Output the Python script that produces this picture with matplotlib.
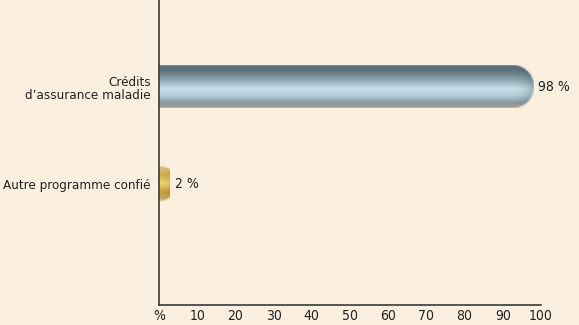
import numpy as np
import matplotlib.pyplot as plt
from matplotlib import font_manager

categories = ["Autre programme confié", "Crédits\nd\u2019assurance maladie"]
values = [2, 98]
value_labels = ["2 %", "98 %"]
tick_values = [0, 10, 20, 30, 40, 50, 60, 70, 80, 90, 100]
tick_labels = ["%", "10", "20", "30", "40", "50", "60", "70", "80", "90", "100"]

BG = "#fbefdf"

# narrow face if one is around, else condensed DejaVu
names = {f.name for f in font_manager.fontManager.ttflist}
if "Liberation Sans Narrow" in names:
    plt.rcParams["font.family"] = ["Liberation Sans Narrow", "DejaVu Sans"]
else:
    plt.rcParams["font.family"] = ["DejaVu Sans"]
    plt.rcParams["font.stretch"] = "condensed"


def tube_image(length_px, height_px, stops):
    """RGBA image of a shaded tube with a rounded right end."""
    nx = max(int(length_px * 2), 4)
    ny = max(int(height_px * 2), 4)
    pos = [s[0] for s in stops]
    cols = np.array([plt.matplotlib.colors.to_rgb(s[1]) for s in stops])
    yy = np.linspace(0, 1, ny)
    rgb = np.stack([np.interp(yy, pos, cols[:, k]) for k in range(3)], axis=1)
    img = np.zeros((ny, nx, 4))
    img[:, :, :3] = rgb[:, None, :]
    # alpha: rounded cap on the right end, soft edge
    xs = (np.arange(nx) + 0.5) / nx * length_px
    ys = (np.arange(ny) + 0.5) / ny * height_px
    X, Y = np.meshgrid(xs, ys)
    r = height_px / 2
    cx = max(length_px - r, 0)
    d = np.sqrt(np.clip(X - cx, 0, None) ** 2 + (Y - r) ** 2)
    img[:, :, 3] = np.clip((r - d) / 2.0 + 0.5, 0, 1)
    # shade the cap slightly darker towards the tip
    shade = 1 - 0.2 * np.clip((X - cx) / r, 0, 1) ** 2
    img[:, :, :3] *= shade[:, :, None]
    return img


# rows run top to bottom
blue_stops = [(0.0, "#56697a"), (0.15, "#60767f"), (0.35, "#8fa8b3"),
              (0.55, "#c5e0ea"), (0.72, "#b3ccd6"), (0.88, "#8597a0"),
              (1.0, "#a79f92")]
gold_stops = [(0.0, "#d8c28a"), (0.25, "#d4b04a"), (0.5, "#f0d46c"),
              (0.75, "#c39a35"), (1.0, "#c9b07a")]

fig = plt.figure(figsize=(5.79, 3.25), dpi=100, facecolor=BG)
ax = fig.add_axes([159 / 579, 20 / 325, 382 / 579, 305 / 325])
ax.set_facecolor(BG)

ypos = [0, 1]
heights = [0.36, 0.44]
ax.set_xlim(0, 100)
ax.set_ylim(-1.25, 1.9)

px_x = 382 / 100
px_y = 305 / 3.15
for y, v, h, stops in zip(ypos, values, heights, [gold_stops, blue_stops]):
    ax.barh(y, v, height=h, color="none", edgecolor="none")
    pad = 3 if v < 10 else 0
    img = tube_image(v * px_x + pad, h * px_y, stops)
    ax.imshow(img, extent=(0, v + pad / px_x, y - h / 2, y + h / 2),
              origin="upper", aspect="auto", interpolation="bilinear", zorder=2)

# value labels sit just past the end of each tube
for y, v, lab in zip(ypos, values, value_labels):
    off = 2.2 if v < 10 else 1.1
    ax.text(v + off, y, lab, va="center", ha="left", fontsize=10, color="#222222")

ax.set_yticks(ypos)
ax.set_yticklabels(categories, fontsize=9.6, color="#222222", linespacing=1.05)
ax.set_xticks(tick_values)
ax.set_xticklabels(tick_labels, fontsize=10, color="#222222")
ax.tick_params(axis="y", length=0, pad=6)
ax.tick_params(axis="x", length=0, pad=3)

for s in ["top", "right"]:
    ax.spines[s].set_visible(False)
for s in ["left", "bottom"]:
    ax.spines[s].set_color("#3a3a3a")
    ax.spines[s].set_linewidth(1.2)

fig.savefig("out.png", dpi=100, facecolor=BG)
